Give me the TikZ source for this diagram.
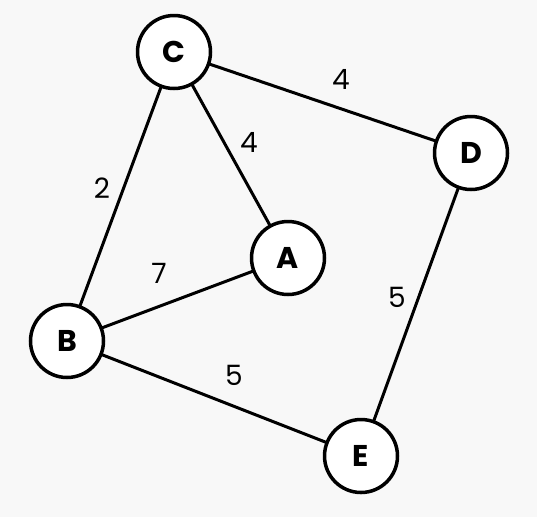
\documentclass[tikz,border=0pt]{standalone}
\usepackage{fontspec}
\setmainfont{Poppins}
\definecolor{bg}{HTML}{F8F8F8}
\begin{document}
\begin{tikzpicture}[x=1pt,y=-1pt,
  vert/.style={circle,draw=black,fill=white,line width=3.5pt,minimum size=73pt,inner sep=0pt,font=\fontsize{30}{30}\selectfont\bfseries},
  edge/.style={line width=3pt,black},
  wlab/.style={font=\fontsize{28}{28}\selectfont}]
\fill[bg] (0,0) rectangle (537,517);
\useasboundingbox (0,0) rectangle (537,517);
\coordinate (cC) at (174,52);
\coordinate (cD) at (471,153);
\coordinate (cA) at (288,258);
\coordinate (cB) at (67,341);
\coordinate (cE) at (361,456);
\draw[edge] (cC) -- (cD);
\draw[edge] (cC) -- (cA);
\draw[edge] (cC) -- (cB);
\draw[edge] (cB) -- (cA);
\draw[edge] (cB) -- (cE);
\draw[edge] (cD) -- (cE);
\node[vert] (C) at (cC) {C};
\node[vert] (D) at (cD) {D};
\node[vert] (A) at (cA) {A};
\node[vert] (B) at (cB) {B};
\node[vert] (E) at (cE) {E};
\node[wlab] (l1) at (341,79) {4};
\node[wlab] (l2) at (249,142) {4};
\node[wlab] (l3) at (102,188) {2};
\node[wlab] (l4) at (159,273) {7};
\node[wlab] (l5) at (397,297) {5};
\node[wlab] (l6) at (234,375) {5};
\end{tikzpicture}
\end{document}
